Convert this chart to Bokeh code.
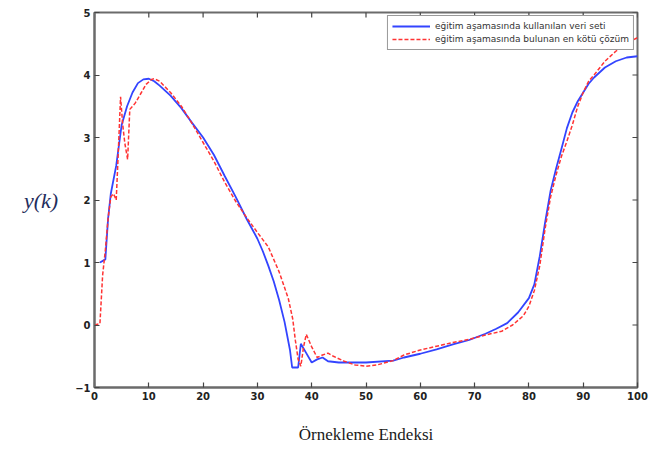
import math
from bokeh.plotting import figure
from bokeh.models import Range1d, Legend, LegendItem, FixedTicker
from bokeh.embed import file_html
from bokeh.resources import INLINE

# ---- data ----
blue_x = [1, 2, 2.5, 3, 4, 5, 6, 7, 8, 9, 10, 11, 12, 14, 16, 18, 20, 22, 24, 26, 28,
          30, 31, 32, 33, 34, 35, 36, 36.4, 37.5, 38, 39, 40, 41, 42, 43, 45, 50, 55,
          57, 60, 63, 66, 69, 72, 74, 76, 78, 80, 81, 82, 83, 84, 85, 86, 87, 88, 89,
          90, 91, 92, 94, 96, 98, 100]
blue_y = [1.0, 1.05, 1.7, 2.1, 2.55, 3.2, 3.5, 3.72, 3.87, 3.93, 3.94, 3.9, 3.83, 3.67,
          3.47, 3.23, 3.0, 2.72, 2.38, 2.05, 1.7, 1.38, 1.18, 0.95, 0.7, 0.4, 0.05, -0.4,
          -0.68, -0.68, -0.3, -0.45, -0.6, -0.55, -0.52, -0.58, -0.6, -0.6, -0.57,
          -0.52, -0.46, -0.39, -0.31, -0.24, -0.14, -0.06, 0.03, 0.2, 0.43, 0.65, 1.1,
          1.65, 2.15, 2.5, 2.82, 3.15, 3.4, 3.58, 3.72, 3.86, 3.96, 4.12, 4.22, 4.28, 4.3]

red_x = [0, 1, 1.5, 2, 2.5, 3, 3.5, 4, 4.3, 4.8, 5.2, 5.6, 6.1, 6.5, 7.5, 8.5, 9.5,
         10.5, 11, 12, 14, 16, 18, 20, 22, 24, 26, 28, 30, 32, 34, 35, 35.7, 36.5, 37,
         37.5, 38, 38.5, 39, 40, 41, 42, 43, 44, 46, 48, 50, 52, 55, 57, 60, 63, 66,
         69, 72, 75, 77, 79, 80, 81, 82, 83, 84, 85, 86, 87, 88, 89, 90, 91, 92, 94,
         96, 98, 100]
red_y = [0.0, 0.02, 0.8, 1.2, 1.7, 2.05, 2.1, 2.0, 2.6, 3.65, 3.2, 2.9, 2.65, 3.45,
         3.55, 3.7, 3.85, 3.93, 3.94, 3.9, 3.72, 3.5, 3.22, 2.92, 2.62, 2.28, 1.98,
         1.72, 1.48, 1.25, 0.85, 0.6, 0.42, 0.1, -0.25, -0.55, -0.66, -0.35, -0.15,
         -0.35, -0.52, -0.48, -0.45, -0.5, -0.58, -0.64, -0.66, -0.64, -0.57, -0.48,
         -0.4, -0.34, -0.28, -0.23, -0.16, -0.1, 0.0, 0.15, 0.3, 0.55, 0.95, 1.55,
         2.05, 2.4, 2.7, 2.94, 3.2, 3.5, 3.72, 3.9, 4.0, 4.22, 4.38, 4.5, 4.6]

x_ticks = [0, 10, 20, 30, 40, 50, 60, 70, 80, 90, 100]
y_ticks = [-1, 0, 1, 2, 3, 4, 5]
blue_label = "eğitim aşamasında kullanılan veri seti"
red_label = "eğitim aşamasında bulunan en kötü çözüm"
x_title = "Örnekleme Endeksi"
y_title = "y(k)"

x_min, x_max = 0, 100
y_min, y_max = -1, 5

p = figure(width=661, height=449, output_backend="svg", toolbar_location=None,
           x_range=Range1d(x_min, x_max), y_range=Range1d(y_min, y_max),
           min_border_left=94, min_border_right=24, min_border_top=12,
           min_border_bottom=62)
p.grid.visible = False
p.background_fill_color = "white"
p.border_fill_color = "white"
axis_color = "#6b6b6b"
p.outline_line_color = axis_color
p.outline_line_width = 2

xax = p.xaxis[0]
yax = p.yaxis[0]
for ax in (xax, yax):
    ax.axis_line_color = axis_color
    ax.axis_line_width = 2
    ax.major_tick_line_color = "#444444"
    ax.major_tick_line_width = 1.2
    ax.major_tick_in = 5
    ax.major_tick_out = 0
    ax.minor_tick_line_color = None
    ax.major_label_text_font = "DejaVu Sans"
    ax.major_label_text_font_style = "bold"
    ax.major_label_text_font_size = "10px"
    ax.major_label_text_color = "#222222"
    ax.major_label_standoff = 4
xax.ticker = FixedTicker(ticks=x_ticks)
yax.ticker = FixedTicker(ticks=y_ticks)

xax.axis_label = x_title
xax.axis_label_text_font = "Liberation Serif"
xax.axis_label_text_font_style = "normal"
xax.axis_label_text_font_size = "17px"
xax.axis_label_text_color = "#1a1a1a"
xax.axis_label_standoff = 22

yax.axis_label = y_title
yax.axis_label_orientation = "horizontal"
yax.axis_label_text_font = "Liberation Serif"
yax.axis_label_text_font_style = "italic"
yax.axis_label_text_font_size = "22px"
yax.axis_label_text_color = "#1f2d5c"
yax.axis_label_standoff = 14

# inward ticks on the top and right edges of the box (clipped to the frame)
p.scatter(x_ticks, [y_max] * len(x_ticks), marker="dash", size=10, angle=math.pi / 2,
          line_color="#444444", line_width=1.2)
p.scatter([x_max] * len(y_ticks), y_ticks, marker="dash", size=10,
          line_color="#444444", line_width=1.2)

rb = p.line(blue_x, blue_y, line_color="#3344ff", line_width=1.8)
rr = p.line(red_x, red_y, line_color="#ff3333", line_width=1.5, line_dash="4 2")

legend = Legend(items=[LegendItem(label=blue_label, renderers=[rb]),
                       LegendItem(label=red_label, renderers=[rr])],
                location="top_right", margin=3, padding=4, spacing=1,
                label_text_font="DejaVu Sans", label_text_font_size="9px",
                label_text_color="#333333", label_height=12, glyph_height=12,
                glyph_width=38, label_standoff=5,
                border_line_color="#333333", border_line_width=1.2,
                background_fill_color="white", background_fill_alpha=1)
p.add_layout(legend)

open("out.html", "w").write(file_html(p, INLINE))
